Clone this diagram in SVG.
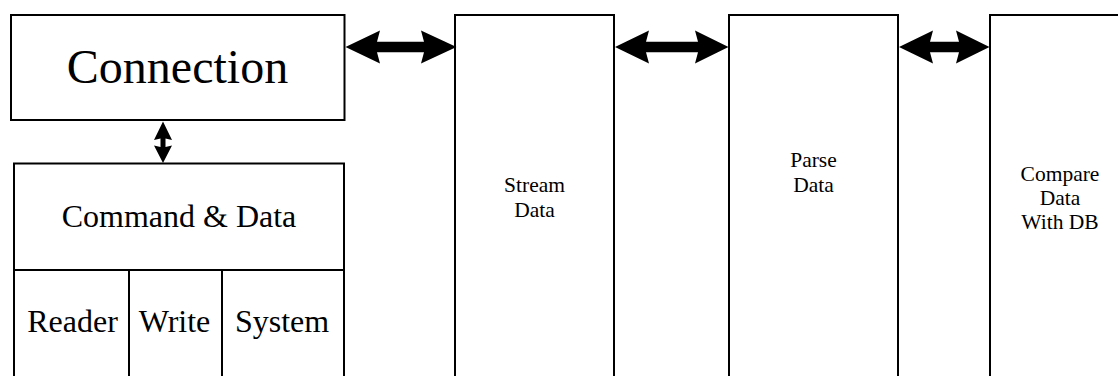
<svg xmlns="http://www.w3.org/2000/svg" width="1118" height="376" viewBox="0 0 1118 376">
  <style>
    .box { fill: #ffffff; stroke: #000000; stroke-width: 2; }
    .div { stroke: #000000; stroke-width: 2; fill: none; }
    .arrow { fill: #000000; stroke: none; }
    text { fill: #000000; text-anchor: middle; }
  </style>
  <rect width="1118" height="376" fill="#ffffff"/>

  <g id="connection">
    <rect class="box" x="11" y="15" width="333.5" height="105"/>
    <text x="177.5" y="83" font-family="'Liberation Serif', 'Times New Roman', Times, serif" font-size="48">Connection</text>
  </g>

  <g id="command-data" font-family="'Liberation Serif', 'Times New Roman', Times, serif" font-size="32">
    <rect class="box" x="14" y="163.5" width="330" height="230"/>
    <line class="div" x1="14" y1="270" x2="344" y2="270"/>
    <line class="div" x1="129" y1="270" x2="129" y2="380"/>
    <line class="div" x1="222" y1="270" x2="222" y2="380"/>
    <text x="179" y="227">Command &amp; Data</text>
    <text x="72.5" y="332">Reader</text>
    <text x="174.5" y="332">Write</text>
    <text x="282" y="332">System</text>
  </g>

  <g id="stream-data" font-family="'Liberation Serif', 'Times New Roman', Times, serif" font-size="21.5">
    <rect class="box" x="455" y="15" width="159" height="380"/>
    <text x="534.5" y="192">Stream</text>
    <text x="534.5" y="216.7">Data</text>
  </g>

  <g id="parse-data" font-family="'Liberation Serif', 'Times New Roman', Times, serif" font-size="21.5">
    <rect class="box" x="729" y="15" width="169" height="380"/>
    <text x="813.5" y="167.3">Parse</text>
    <text x="813.5" y="192">Data</text>
  </g>

  <g id="compare-data" font-family="'Liberation Serif', 'Times New Roman', Times, serif" font-size="21.5">
    <rect class="box" x="990" y="15" width="140" height="380"/>
    <text x="1060" y="180.7">Compare</text>
    <text x="1060" y="205">Data</text>
    <text x="1060" y="229.3">With DB</text>
  </g>

  <g id="connectors">
    <!-- Connection <-> Stream Data -->
    <polygon class="arrow" points="345.5,47 380,30.5 377,41.7 424,41.7 421,30.5 456.5,47 421,63.5 424,52.3 377,52.3 380,63.5"/>
    <!-- Stream Data <-> Parse Data -->
    <polygon class="arrow" points="615,47 649,30.5 646,41.7 698,41.7 695,30.5 728.5,47 695,63.5 698,52.3 646,52.3 649,63.5"/>
    <!-- Parse Data <-> Compare Data With DB -->
    <polygon class="arrow" points="899,47 933,30.5 930,41.7 959,41.7 956,30.5 989.5,47 956,63.5 959,52.3 930,52.3 933,63.5"/>
    <!-- Connection <-> Command & Data -->
    <polygon class="arrow" points="163,121.5 172,140 165.5,138.5 165.5,147 172,145.5 163,163 154,145.5 160.5,147 160.5,138.5 154,140"/>
  </g>
</svg>
